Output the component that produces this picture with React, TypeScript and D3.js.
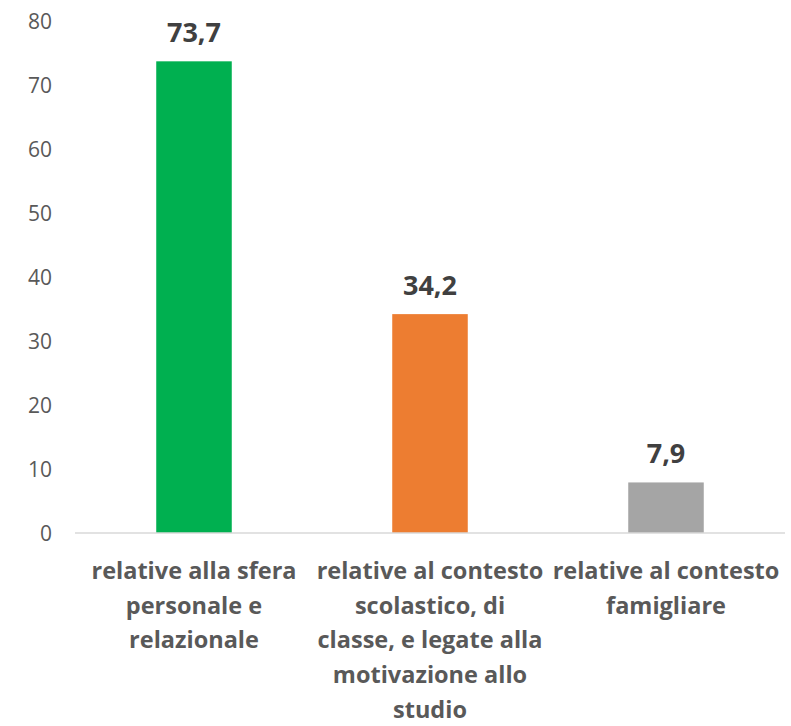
import React from "react";
import * as d3 from "d3";

const categories: string[][] = [
  ["relative alla sfera", "personale e", "relazionale"],
  ["relative al contesto", "scolastico, di", "classe, e legate alla", "motivazione allo", "studio"],
  ["relative al contesto", "famigliare"],
];
const values: number[] = [73.7, 34.2, 7.9];
const labels: string[] = ["73,7", "34,2", "7,9"];
const colors: string[] = ["#00B050", "#ED7D31", "#A5A5A5"];
const yTicks: number[] = [0, 10, 20, 30, 40, 50, 60, 70, 80];

const W = 791;
const H = 726;
const FONT = "'Open Sans', sans-serif";

export default function App() {
  const x = d3
    .scaleBand<number>()
    .domain(values.map((_, i) => i))
    .range([76, 784])
    .paddingInner(0.68)
    .paddingOuter(0.34);
  const y = d3.scaleLinear().domain([0, 80]).range([533, 21]);

  return (
    <svg
      width={W}
      height={H}
      style={{ position: "absolute", left: 0, top: 0, background: "#fff" }}
      fontFamily={FONT}
    >
      {yTicks.map((t) => (
        <text
          key={t}
          x={52}
          y={y(t)}
          dy="0.36em"
          textAnchor="end"
          fontSize={21}
          fill="#595959"
        >
          {t}
        </text>
      ))}
      {values.map((v, i) => (
        <g key={i}>
          <rect
            x={x(i)}
            y={y(v)}
            width={x.bandwidth()}
            height={y(0) - y(v)}
            fill={colors[i]}
          />
          <text
            x={(x(i) as number) + x.bandwidth() / 2}
            y={y(v) - 19}
            textAnchor="middle"
            fontSize={27}
            fontWeight="bold"
            fill="#404040"
          >
            {labels[i]}
          </text>
          {categories[i].map((line, j) => (
            <text
              key={j}
              x={(x(i) as number) + x.bandwidth() / 2}
              y={579 + j * 34.7}
              textAnchor="middle"
              fontSize={23.5}
              fontWeight="bold"
              fill="#595959"
            >
              {line}
            </text>
          ))}
        </g>
      ))}
      <line x1={75} x2={785} y1={y(0)} y2={y(0)} stroke="#D9D9D9" strokeWidth={1.5} />
    </svg>
  );
}
